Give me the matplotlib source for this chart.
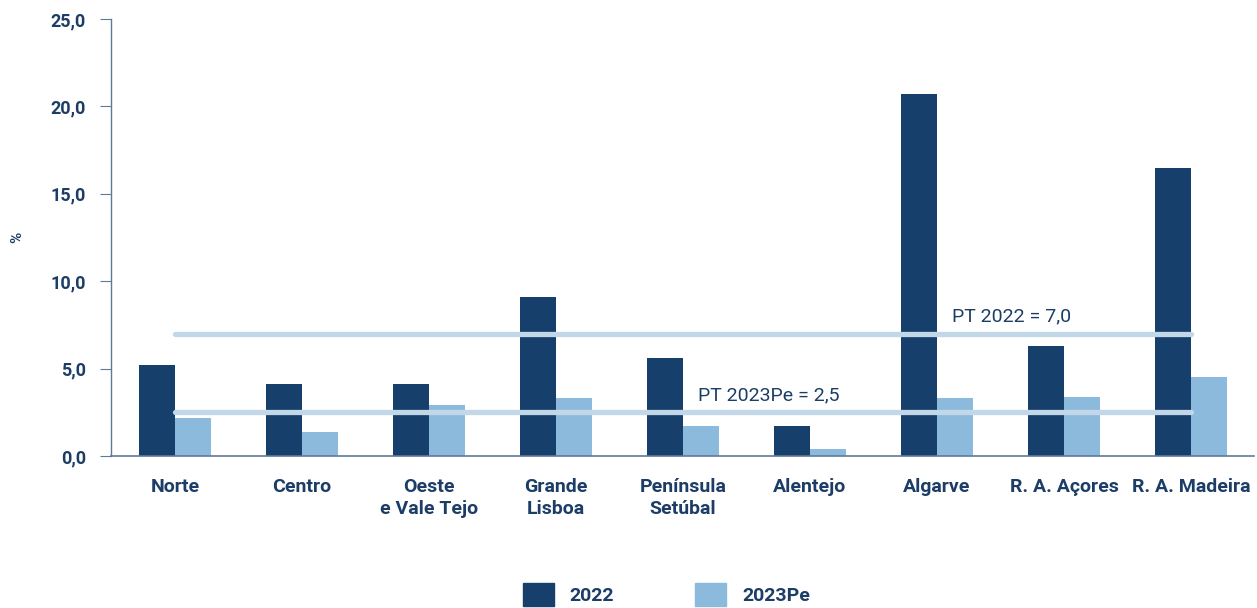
import numpy as np
import matplotlib.pyplot as plt
from matplotlib.patches import Patch

plt.rcParams['font.family'] = ['Roboto', 'DejaVu Sans']

# dados por região
regioes = ['Norte', 'Centro', 'Oeste\ne Vale Tejo', 'Grande\nLisboa', 'Península\nSetúbal',
           'Alentejo', 'Algarve', 'R. A. Açores', 'R. A. Madeira']
v2022 = [5.2, 4.1, 4.1, 9.1, 5.6, 1.7, 20.7, 6.3, 16.5]
v2023 = [2.2, 1.4, 2.9, 3.3, 1.7, 0.4, 3.3, 3.4, 4.5]
pt_2022 = 7.0
pt_2023 = 2.5
yticks = [0, 5, 10, 15, 20, 25]

escuro = '#173f6b'
claro = '#8cbadc'
linha = '#c2d7e7'
texto = '#1c3d66'
eixo = '#5f7a99'

fig = plt.figure(figsize=(12.57, 6.08), dpi=100)
ax = fig.add_axes([0.0883, 0.25, 0.9097, 0.7188])

x = np.arange(len(regioes))
w = 0.285
ax.bar(x - w / 2, v2022, w, color=escuro, zorder=2)
ax.bar(x + w / 2, v2023, w, color=claro, zorder=2)

# médias nacionais
ax.plot([x[0], x[-1]], [pt_2022, pt_2022], color=linha, lw=3.8, solid_capstyle='round', zorder=3)
ax.plot([x[0], x[-1]], [pt_2023, pt_2023], color=linha, lw=3.8, solid_capstyle='round', zorder=3)
ax.text(6.12, pt_2022 + 0.45, 'PT 2022 = 7,0', color=texto, fontsize=14, va='bottom')
ax.text(4.12, pt_2023 + 0.45, 'PT 2023Pe = 2,5', color=texto, fontsize=14, va='bottom')

ax.set_xlim(-0.505, 8.5)
ax.set_ylim(0, 25)
ax.set_yticks(yticks)
ax.set_yticklabels([f'{t:.1f}'.replace('.', ',') for t in yticks])
ax.set_xticks(x)
ax.set_xticklabels(regioes, linespacing=1.3)

for s in ['top', 'right']:
    ax.spines[s].set_visible(False)
ax.spines['left'].set_color(eixo)
ax.spines['bottom'].set_color(eixo)
ax.spines['left'].set_linewidth(1.0)
ax.spines['bottom'].set_linewidth(1.2)

ax.tick_params(axis='y', length=8, color=eixo, pad=10, labelsize=13, labelcolor=texto)
ax.tick_params(axis='x', length=0, pad=16, labelsize=14, labelcolor=texto)
for lbl in ax.get_yticklabels() + ax.get_xticklabels():
    lbl.set_fontweight('bold')

fig.text(0.0135, 0.609, '%', rotation=90, ha='center', va='center',
         fontsize=11, fontweight='bold', color=texto)

handles = [Patch(color=escuro, label='2022'), Patch(color=claro, label='2023Pe')]
leg = fig.legend(handles=handles, loc='center', bbox_to_anchor=(0.53, 0.022), ncol=2,
                 frameon=False, handlelength=1.6, handleheight=1.5, handletextpad=0.8,
                 columnspacing=4.2, fontsize=14)
for t in leg.get_texts():
    t.set_color(texto)
    t.set_fontweight('bold')

fig.savefig('out.png', dpi=100)
